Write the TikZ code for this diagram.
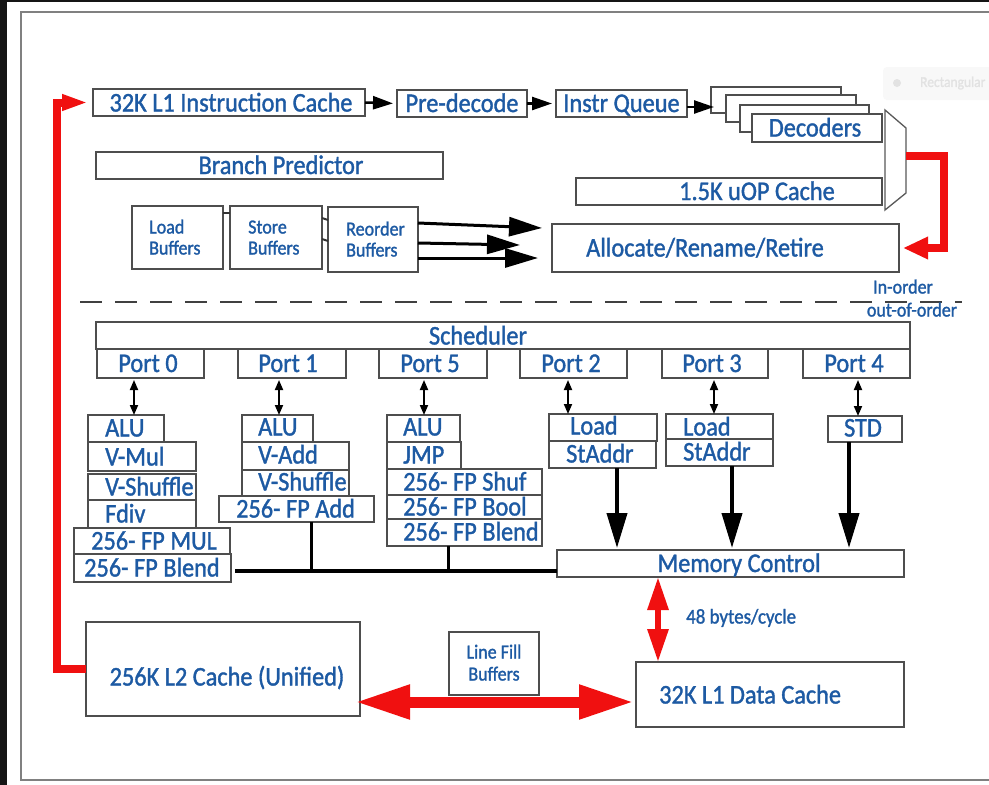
\documentclass[tikz,border=0pt]{standalone}
\usepackage{fontspec}
\setmainfont{Carlito}[FakeStretch=0.9, FakeBold=1.3]
\usetikzlibrary{arrows.meta}
\definecolor{iblue}{HTML}{1D5AA3}
\definecolor{bord}{HTML}{4E4E4E}
\definecolor{ired}{HTML}{F01010}
\definecolor{framec}{HTML}{808080}
\definecolor{blackstrip}{HTML}{151515}
\definecolor{ghostbg}{HTML}{F8F8F8}
\definecolor{ghostfg}{HTML}{E2E2E2}
\newcommand\bx[5]{\node[box, anchor=north west, minimum width={(#4)-(#2)}, minimum height={(#5)-(#3)}] (#1) at (#2,#3) {};}
\tikzset{
  box/.style={draw=bord, line width=1.4pt, inner sep=0pt, outer sep=0pt},
  decbox/.style={box, fill=white},
  t/.style={text=iblue, font=\fontsize{27}{30}\selectfont, inner sep=0pt, text height=17pt, text depth=0pt},
  ts/.style={text=iblue, font=\fontsize{20}{22}\selectfont, inner sep=0pt, text height=13pt, text depth=0pt},
  blk/.style={draw=black, line width=2.5pt, -{Triangle[length=20pt,width=13pt]}},
  bigblk/.style={draw=black, line width=3pt, -{Triangle[length=33pt,width=19pt]}},
  dbl/.style={draw=black, line width=1.8pt, {Triangle[length=10pt,width=8pt]}-{Triangle[length=10pt,width=8pt]}},
  downarr/.style={draw=black, line width=4pt, -{Triangle[length=35pt,width=20pt]}},
  bus/.style={draw=black, line width=4pt},
  busv/.style={draw=black, line width=3pt},
  stub/.style={draw=black!80, line width=2pt},
  redarr/.style={draw=ired, line width=8pt, line join=miter, -{Triangle[length=26pt,width=15pt]}},
  redarrb/.style={draw=ired, line width=8pt, line join=miter, -{Triangle[length=25pt,width=21pt]}},
  reddbl/.style={draw=ired, line width=6pt, {Triangle[length=33pt,width=20pt]}-{Triangle[length=33pt,width=20pt]}},
  redbig/.style={draw=ired, line width=11pt, {Triangle[length=55pt,width=32pt]}-{Triangle[length=55pt,width=32pt]}},
  dashline/.style={draw=black!75, line width=1.6pt, dash pattern=on 22pt off 13pt},
  muxs/.style={draw=black!65, line width=1.3pt, fill=white},
  framel/.style={draw=framec, line width=1.5pt}
}
\begin{document}
\begin{tikzpicture}[x=1pt,y=-1pt]
\useasboundingbox (0,0) rectangle (989,785);
\fill[white] (0,0) rectangle (989,785);
\fill[blackstrip] (0,0) rectangle (7,785);
\fill[blackstrip] (0,0) rectangle (989,2);
\draw[framel] (992,12) -- (21,12) -- (21,780) -- (992,780);

% faint overlay
\fill[ghostbg, rounded corners=4pt] (883,67) rectangle (995,100);
\fill[ghostfg] (897,83) circle (4);
\node[text=ghostfg, font=\fontsize{15}{16}\selectfont, inner sep=0pt, anchor=west] (ghost) at (920,83) {Rectangular};

% ---------- front end ----------
\bx{IC}{93}{89}{365}{116}
\bx{PD}{397}{90}{527}{117}
\bx{IQ}{556}{90}{687}{117}
\node[decbox, anchor=north west, minimum width=130, minimum height=26] (D1) at (711,87) {};
\node[decbox, anchor=north west, minimum width=130, minimum height=27] (D2) at (726,95) {};
\node[decbox, anchor=north west, minimum width=129, minimum height=27] (D3) at (740,105) {};
\node[decbox, anchor=north west, minimum width=130, minimum height=28] (D4) at (752,114) {};
\bx{BP}{96}{152}{443}{179}
\bx{UC}{576}{178}{882}{205}
\draw[muxs] (885,110) -- (906,128) -- (906,193) -- (885,210) -- cycle;
\coordinate (muxr) at (906,156);

\bx{LB}{132}{206}{223}{269}
\bx{SB}{230}{206}{322}{269}
\bx{RB}{328}{207}{418}{272}
\bx{ARR}{552}{224}{899}{272}

\node[t] (ICt) at (231,103) {32K L1 Instruction Cache};
\node[t] (PDt) at (462,103.5) {Pre-decode};
\node[t] (IQt) at (621.5,103.5) {Instr Queue};
\node[t] (D4t) at (815,128) {Decoders};
\node[t] (BPt) at (281,165.5) {Branch Predictor};
\node[t] (UCt) at (757,191.5) {1.5K uOP Cache};
\node[ts, anchor=west] (LBt1) at (149,227) {Load};
\node[ts, anchor=west] (LBt2) at (149,248) {Buffers};
\node[ts, anchor=west] (SBt1) at (248,227) {Store};
\node[ts, anchor=west] (SBt2) at (248,248) {Buffers};
\node[ts, anchor=west] (RBt1) at (346,229) {Reorder};
\node[ts, anchor=west] (RBt2) at (346,250) {Buffers};
\node[t] (ARRt) at (705,248) {Allocate/Rename/Retire};

% front-end connectors
\draw[blk, shorten >=4pt] (IC.east) -- (PD.west);
\draw[blk, shorten >=4pt] (PD.east) -- (IQ.west);
\coordinate (iqo) at ([yshift=-3.5pt]IQ.east);
\draw[blk, shorten >=-3pt] (iqo) -- (iqo -| D1.west);
\draw[stub] ([yshift=24.5pt]LB.east) -- ([yshift=24.5pt]SB.west);
\draw[stub] ([yshift=19.5pt]SB.east) -- ([yshift=19.5pt]RB.west);
\draw[stub] ([yshift=-1.5pt]SB.east) -- ([yshift=-1.5pt]RB.west);
\coordinate (r1s) at ([yshift=16.5pt]RB.east);
\coordinate (r1e) at (542,228);
\coordinate (r2s) at ([yshift=-3.5pt]RB.east);
\coordinate (r2e) at (520,245);
\coordinate (r3s) at ([yshift=-18.5pt]RB.east);
\coordinate (r3e) at (538,258);
\draw[bigblk] (r1s) -- (r1e);
\draw[bigblk] (r2s) -- (r2e);
\draw[bigblk] (r3s) -- (r3e);
\coordinate (rx2) at (944,0);
\draw[redarrb, shorten >=4pt] (muxr) -- (muxr -| rx2) |- (ARR.east);

% in-order / out-of-order
\coordinate (dl) at (80,302);
\coordinate (dr) at (962,302);
\draw[dashline] (dl) -- (dr);
\node[ts] (io1) at (903,287) {In-order};
\node[ts] (io2) at (912,310) {out-of-order};

% ---------- scheduler and ports ----------
\bx{SCH}{96}{322}{910}{349}
\bx{P0}{97}{349}{204}{378}
\bx{P1}{238}{349}{346}{378}
\bx{P5}{379}{349}{487}{378}
\bx{P2}{520}{349}{627}{378}
\bx{P3}{662}{349}{768}{378}
\bx{P4}{803}{349}{910}{378}
\node[t] (SCHt) at (478,336) {Scheduler};
\node[t] (P0t) at (148,363.5) {Port 0};
\node[t] (P1t) at (288,363.5) {Port 1};
\node[t] (P5t) at (430,363.5) {Port 5};
\node[t] (P2t) at (571,363.5) {Port 2};
\node[t] (P3t) at (712,363.5) {Port 3};
\node[t] (P4t) at (854,363.5) {Port 4};

% port 0
\bx{A0}{88}{415}{164}{442}
\bx{VM0}{88}{442}{196}{471}
\bx{VS0}{88}{474}{196}{500}
\bx{FD0}{88}{500}{196}{528}
\bx{FM0}{74}{528}{230}{554}
\bx{FB0}{74}{554}{231}{582}
% port 1
\bx{A1}{242}{415}{313}{442}
\bx{VA1}{242}{442}{349}{470}
\bx{VS1}{242}{470}{349}{496}
\bx{FA1}{219}{496}{374}{522}
% port 5
\bx{A5}{387}{415}{460}{442}
\bx{J5}{387}{442}{461}{469}
\bx{FS5}{387}{469}{542}{495}
\bx{FBo5}{387}{495}{542}{519}
\bx{FBl5}{387}{519}{542}{546}
% ports 2,3,4
\bx{LD2}{549}{414}{657}{441}
\bx{SA2}{549}{441}{656}{468}
\bx{LD3}{666}{414}{773}{439}
\bx{SA3}{666}{439}{773}{466}
\bx{STD}{828}{416}{902}{442}
\bx{MC}{557}{550}{904}{577}

\node[t, anchor=west] (A0t) at (105,428) {ALU};
\node[t, anchor=west] (VM0t) at (105,457) {V-Mul};
\node[t, anchor=west] (VS0t) at (105,487) {V-Shuffle};
\node[t, anchor=west] (FD0t) at (105,514) {Fdiv};
\node[t, anchor=west] (FM0t) at (91,541) {256- FP MUL};
\node[t, anchor=west] (FB0t) at (84,568) {256- FP Blend};
\node[t, anchor=west] (A1t) at (258,427) {ALU};
\node[t, anchor=west] (VA1t) at (258,455) {V-Add};
\node[t, anchor=west] (VS1t) at (258,482) {V-Shuffle};
\node[t, anchor=west] (FA1t) at (236,509) {256- FP Add};
\node[t, anchor=west] (A5t) at (403,427) {ALU};
\node[t, anchor=west] (J5t) at (403,455) {JMP};
\node[t, anchor=west] (FS5t) at (403,482) {256- FP Shuf};
\node[t, anchor=west] (FBo5t) at (403,507) {256- FP Bool};
\node[t, anchor=west] (FBl5t) at (403,532) {256- FP Blend};
\node[t, anchor=west] (LD2t) at (570,426) {Load};
\node[t, anchor=west] (SA2t) at (566,454) {StAddr};
\node[t, anchor=west] (LD3t) at (683,427) {Load};
\node[t, anchor=west] (SA3t) at (683,452) {StAddr};
\node[t] (STDt) at (863,428) {STD};
\node[t] (MCt) at (739,563.5) {Memory Control};

% port arrows
\coordinate (x0) at (134,0);
\coordinate (x1) at (279,0);
\coordinate (x5) at (424,0);
\coordinate (x2) at (568,0);
\coordinate (x3) at (714,0);
\coordinate (x4) at (858,0);
\draw[dbl, shorten <=2pt] (P0.south -| x0) -- (A0.north -| x0);
\draw[dbl, shorten <=2pt] (P1.south -| x1) -- (A1.north -| x1);
\draw[dbl, shorten <=2pt] (P5.south -| x5) -- (A5.north -| x5);
\draw[dbl, shorten <=2pt] (P2.south -| x2) -- (LD2.north -| x2);
\draw[dbl, shorten <=2pt] (P3.south -| x3) -- (LD3.north -| x3);
\draw[dbl, shorten <=2pt] (P4.south -| x4) -- (STD.north -| x4);

% to memory control
\coordinate (xd2) at (617,0);
\coordinate (xd3) at (732,0);
\coordinate (xd4) at (849,0);
\draw[downarr, shorten >=2pt] (SA2.south -| xd2) -- (MC.north -| xd2);
\draw[downarr, shorten >=2pt] (SA3.south -| xd3) -- (MC.north -| xd3);
\draw[downarr, shorten >=2pt] (STD.south -| xd4) -- (MC.north -| xd4);
\coordinate (by) at (0,571);
\coordinate (xb1) at (311,0);
\coordinate (xb5) at (448,0);
\draw[bus, shorten <=4pt] (FB0.east |- by) -- (MC.west |- by);
\draw[busv] (FA1.south -| xb1) -- (by -| xb1);
\draw[busv] (FBl5.south -| xb5) -- (by -| xb5);

% ---------- memory ----------
\bx{L1D}{636}{662}{904}{727}
\bx{L2C}{86}{622}{360}{716}
\bx{LFB}{449}{632}{539}{695}
\node[t, anchor=west] (L1Dt) at (659,695) {32K L1 Data Cache};
\node[t] (L2Ct) at (227,677) {256K L2 Cache (Unified)};
\node[ts] (LFBt1) at (494,652) {Line Fill};
\node[ts] (LFBt2) at (494,674) {Buffers};
\node[ts, anchor=west, font=\fontsize{21}{22}\selectfont] (bpc) at (686,617) {48 bytes/cycle};

\coordinate (xr) at (658,0);
\draw[reddbl] (MC.south -| xr) -- (L1D.north -| xr);
\coordinate (yb) at (0,702);
\draw[redbig, shorten <=-5pt, shorten >=2pt] (L2C.east |- yb) -- (L1D.west |- yb);
\coordinate (rx) at (56.5,0);
\draw[redarr, shorten >=5pt] (L2C.west) -- (L2C.west -| rx) |- (IC.west);
\end{tikzpicture}
\end{document}
